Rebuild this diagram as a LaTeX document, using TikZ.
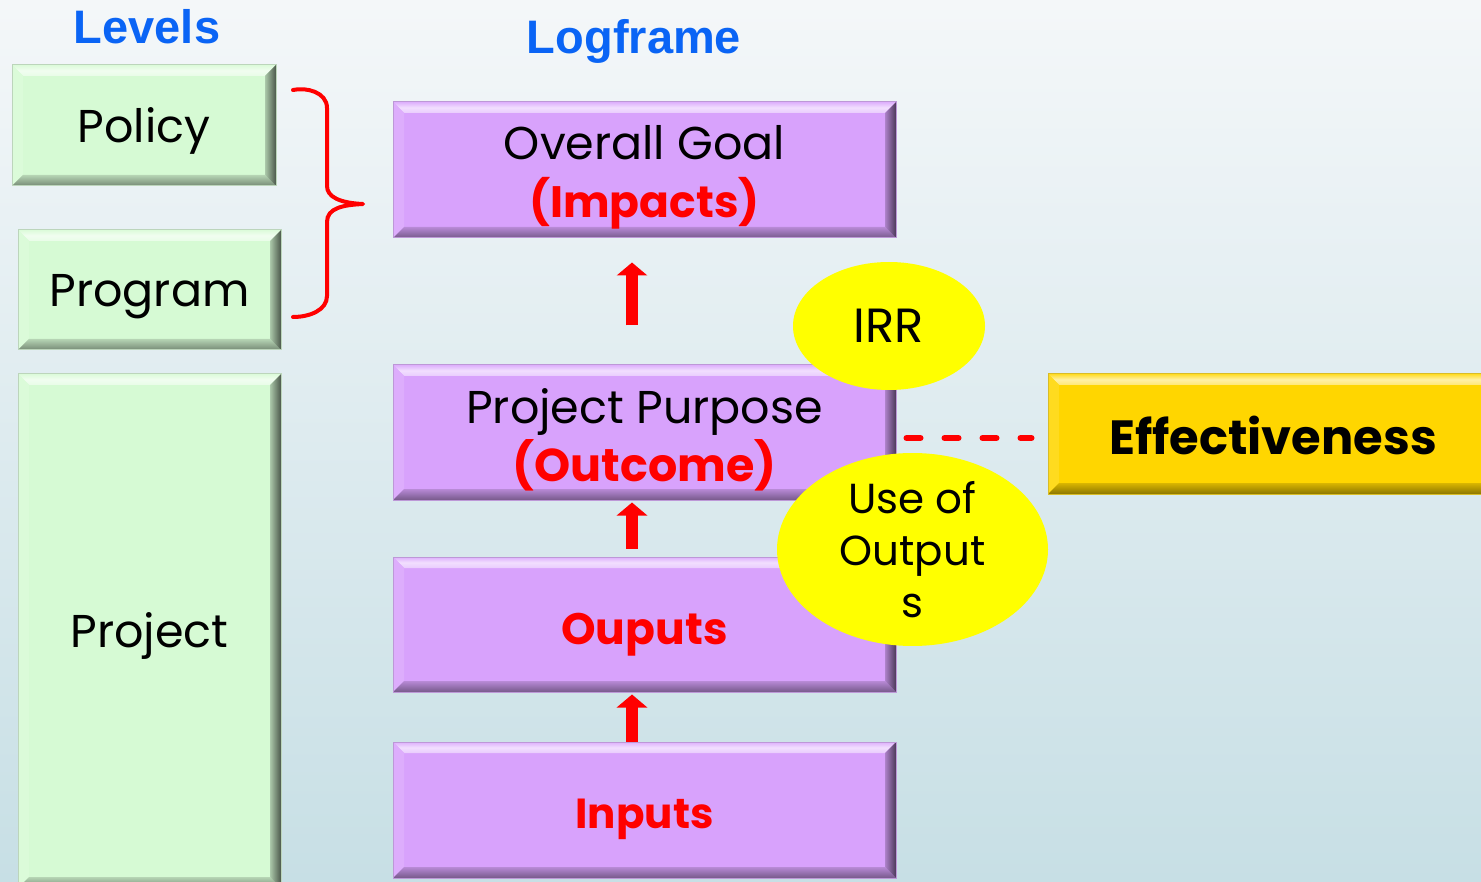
\documentclass[tikz,border=0pt]{standalone}
\usepackage{fontspec}
\setmainfont{Poppins}
\newfontfamily\titlefont{Liberation Sans}
\usetikzlibrary{shapes.geometric, arrows.meta, calc}

\definecolor{bgtop}{RGB}{244,247,249}
\definecolor{bgbot}{RGB}{199,223,229}
\definecolor{lvlgreen}{RGB}{214,250,212}
\definecolor{lfpurple}{RGB}{216,162,252}
\definecolor{effgold}{RGB}{255,214,0}
\definecolor{bubble}{RGB}{255,255,0}
\definecolor{titleblue}{RGB}{10,100,245}
\definecolor{alert}{RGB}{255,0,0}

\tikzset{
  bevel/.style={
    fill=#1, draw=#1!70!gray, line width=1pt, inner sep=0pt,
    path picture={
      \def\bw{11pt}
      \path (path picture bounding box.north west) coordinate (p1)
            (path picture bounding box.north east) coordinate (p2)
            (path picture bounding box.south east) coordinate (p3)
            (path picture bounding box.south west) coordinate (p4);
      % top face: bright highlight
      \shade[top color=#1!85!white, bottom color=#1!55!white, middle color=#1!35!white]
        (p1) -- (p2) -- ($(p2)+(-\bw,-\bw)$) -- ($(p1)+(\bw,-\bw)$) -- cycle;
      % left face
      \fill[#1!88!white] (p1) -- ($(p1)+(\bw,-\bw)$) -- ($(p4)+(\bw,\bw)$) -- (p4) -- cycle;
      % bottom face: shadow
      \shade[top color=#1!85!black, bottom color=#1!55!black]
        (p4) -- ($(p4)+(\bw,\bw)$) -- ($(p3)+(-\bw,\bw)$) -- (p3) -- cycle;
      % right face: deepest shadow
      \shade[left color=#1!80!black, right color=#1!35!black]
        (p2) -- (p3) -- ($(p3)+(-\bw,\bw)$) -- ($(p2)+(-\bw,-\bw)$) -- cycle;
    }},
  boxtext/.style={font=\fontsize{46}{58}\selectfont, align=center, text=black, inner sep=0pt},
  hotbig/.style={font=\fontsize{44}{58}\selectfont\bfseries, text=alert, inner sep=0pt},
  title/.style={font=\titlefont\bfseries\fontsize{47}{56}\selectfont, text=titleblue, inner sep=0pt},
  bubblenode/.style={ellipse, fill=bubble, inner sep=0pt, align=center,
    font=\fontsize{42}{52}\selectfont},
  uparrow/.style={draw=alert, line width=12pt, -{Triangle[width=30pt,length=13pt]}}
}

\begin{document}
\begin{tikzpicture}[x=1pt, y=-1pt]
  \useasboundingbox (0,0) rectangle (1481,882);
  \begin{scope}
    \clip (0,0) rectangle (1481,882);
    % backdrop
    \shade[top color=bgtop, bottom color=bgbot] (0,0) rectangle (1481,882);

    % headings
    \node[title] (levels) at (147,27) {Levels};
    \node[title] (logframe) at (634,41) {Logframe};

    % level boxes
    \node[bevel=lvlgreen, minimum width=264pt, minimum height=121pt] (policy) at (144,125.5) {};
    \node[bevel=lvlgreen, minimum width=263pt, minimum height=120pt] (program) at (149.5,290) {};
    \node[bevel=lvlgreen, minimum width=263pt, minimum height=514pt] (project) at (149.5,631) {};
    \node[boxtext, yshift=-5pt] (policy-txt) at (policy) {Policy};
    \node[boxtext, yshift=-7pt] (program-txt) at (program) {Program};
    \node[boxtext, yshift=-5pt] (project-txt) at (project) {Project};

    % logframe boxes
    \node[bevel=lfpurple, minimum width=503pt, minimum height=136pt] (goal) at (644.5,170) {};
    \node[bevel=lfpurple, minimum width=503pt, minimum height=135pt] (purpose) at (644.5,432.5) {};
    \node[bevel=lfpurple, minimum width=503pt, minimum height=135pt] (outputs) at (644.5,624.5) {};
    \node[bevel=lfpurple, minimum width=503pt, minimum height=136pt] (inputs) at (644.5,810) {};
    \node[boxtext, yshift=-7pt] (goal-txt) at (goal)
      {Overall Goal\\{\fontsize{44}{58}\selectfont\color{alert}\bfseries(Impacts)}};
    \node[boxtext, yshift=-7pt] (purpose-txt) at (purpose)
      {Project Purpose\\{\fontsize{46}{58}\selectfont\color{alert}\bfseries(Outcome)}};
    \node[hotbig, yshift=-10pt] (outputs-txt) at (outputs) {Ouputs};
    \node[hotbig, font=\fontsize{42}{58}\selectfont\bfseries, yshift=-9pt] (inputs-txt) at (inputs) {Inputs};

    % effectiveness box
    \node[bevel=effgold, minimum width=450pt, minimum height=120pt] (eff) at (1273,434) {};
    \node[boxtext, font=\fontsize{48}{58}\selectfont\bfseries, yshift=-1pt] (eff-txt) at (eff)
      {Effectiveness};

    % upward arrows
    \coordinate (ax) at (632,0);
    \draw[uparrow, shorten <=39pt, shorten >=24pt] (purpose.north -| ax) -- (goal.south -| ax);
    \draw[uparrow, shorten <=8pt, shorten >=2pt] (outputs.north -| ax) -- (purpose.south -| ax);
    \draw[uparrow, shorten >=2pt] (inputs.north -| ax) -- (outputs.south -| ax);

    % dashed link
    \draw[alert, line width=6pt, line cap=round, dash pattern=on 14pt off 24pt,
          shorten <=10pt, shorten >=16pt]
      ([yshift=-5.5pt]purpose.east) -- ([yshift=-5.5pt]purpose.east -| eff.west);

    % grouping brace
    \draw[alert, line width=4pt, line cap=round, line join=round]
      (293,90) .. controls (306,87) and (327,92) .. (327,108)
      -- (327,186) .. controls (327,197) and (340,203) .. (363,204)
      .. controls (343,205) and (327,208) .. (327,222)
      -- (327,296) .. controls (327,310) and (310,317) .. (293,317);

    % bubbles
    \node[bubblenode, font=\fontsize{48}{52}\selectfont, minimum width=192pt, minimum height=128pt]
      (irr) at (889,326) {IRR};
    \node[bubblenode, minimum width=271pt, minimum height=159pt] (use) at (912.5,549.5)
      {Use of\\Output\\s};
  \end{scope}
\end{tikzpicture}
\end{document}
